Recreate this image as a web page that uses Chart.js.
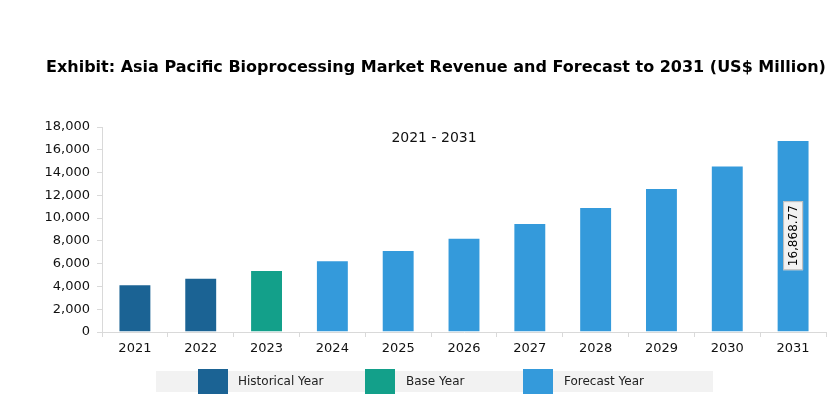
<!DOCTYPE html>
<html>
<head>
<meta charset="utf-8">
<script src="https://cdn.jsdelivr.net/npm/chart.js@4/dist/chart.umd.min.js"></script>
<style>
html,body{margin:0;padding:0;background:#fff;}
#wrap{position:relative;width:838px;height:415px;}
</style>
</head>
<body>
<div id="wrap"><canvas id="c" width="838" height="415"></canvas></div>
<script>
const TITLE = "Exhibit: Asia Pacific Bioprocessing Market Revenue and Forecast to 2031 (US$ Million)";
const SUBTITLE = "2021 - 2031";
const years = ["2021","2022","2023","2024","2025","2026","2027","2028","2029","2030","2031"];
const revenue = [4190, 4770, 5440, 6290, 7200, 8280, 9570, 10975, 12640, 14630, 16868.77];
const yearType = ["Historical Year","Historical Year","Base Year","Forecast Year","Forecast Year","Forecast Year","Forecast Year","Forecast Year","Forecast Year","Forecast Year","Forecast Year"];
const legendLabels = ["Historical Year","Base Year","Forecast Year"];
const typeColors = {"Historical Year":"#1b6394","Base Year":"#13a08a","Forecast Year":"#349adb"};
const labelledIndex = 10;

const FONT = '"DejaVu Sans", Verdana, sans-serif';

const overlay = {
  id: 'overlay',
  afterDraw(chart) {
    const ctx = chart.ctx;
    ctx.save();
    // title
    ctx.fillStyle = '#000';
    ctx.font = 'bold 16px "DejaVu Sans", Verdana, sans-serif';
    ctx.textBaseline = 'middle';
    ctx.textAlign = 'left';
    ctx.fillText(TITLE, 46, 68, 780);
    // subtitle
    ctx.font = '14px ' + FONT;
    ctx.textAlign = 'center';
    ctx.fillStyle = '#111';
    ctx.fillText(SUBTITLE, 434, 138);
    // data label
    const meta = chart.getDatasetMeta(0);
    const el = meta.data[labelledIndex];
    const txt = revenue[labelledIndex].toLocaleString('en-US', {minimumFractionDigits:2, maximumFractionDigits:2});
    const cy = (el.y + el.base) / 2;
    ctx.translate(el.x, cy);
    ctx.rotate(-Math.PI/2);
    ctx.font = '12px ' + FONT;
    const w = ctx.measureText(txt).width + 8;
    const h = 20;
    ctx.fillStyle = '#f2f2f2';
    ctx.fillRect(-w/2, -h/2, w, h);
    ctx.strokeStyle = '#bbbbbb';
    ctx.lineWidth = 1;
    ctx.strokeRect(-w/2 + 0.5, -h/2 + 0.5, w - 1, h - 1);
    ctx.fillStyle = '#000';
    ctx.textAlign = 'center';
    ctx.textBaseline = 'middle';
    ctx.fillText(txt, 0, 1);
    ctx.restore();

    // legend
    ctx.save();
    ctx.fillStyle = '#f2f2f2';
    ctx.fillRect(156, 371, 557, 21);
    const boxX = [198, 365, 523];
    const textX = [238, 406, 564];
    ctx.font = '12px ' + FONT;
    ctx.textBaseline = 'middle';
    ctx.textAlign = 'left';
    legendLabels.forEach((lab, i) => {
      ctx.fillStyle = typeColors[lab];
      ctx.fillRect(boxX[i], 369, 30, 25);
      ctx.fillStyle = '#222';
      ctx.fillText(lab, textX[i], 382);
    });
    ctx.restore();
  }
};

new Chart(document.getElementById('c'), {
  type: 'bar',
  data: {
    labels: years,
    datasets: [{
      data: revenue,
      backgroundColor: yearType.map(t => typeColors[t]),
      borderColor: 'rgba(255,255,255,0.35)',
      borderWidth: 1,
      categoryPercentage: 1.0,
      barPercentage: 0.5
    }]
  },
  options: {
    responsive: false,
    animation: false,
    devicePixelRatio: 1,
    layout: { padding: { top: 127, right: 12, left: 0, bottom: 0 } },
    plugins: { legend: { display: false }, tooltip: { enabled: false }, title: { display: false } },
    scales: {
      y: {
        min: 0, max: 18000,
        ticks: { stepSize: 2000, padding: 7, color: '#111', font: { family: FONT, size: 13 },
          callback: v => v.toLocaleString('en-US') },
        grid: { drawOnChartArea: false, drawTicks: true, tickLength: 5, color: '#d9d9d9' },
        border: { display: true, color: '#d9d9d9' },
        afterFit(s) { s.width = 102; }
      },
      x: {
        ticks: { padding: 4, color: '#111', font: { family: FONT, size: 13 } },
        grid: { drawOnChartArea: false, drawTicks: true, tickLength: 5, color: '#d9d9d9', offset: true },
        border: { display: true, color: '#d9d9d9' },
        afterFit(s) { s.height = 83; }
      }
    }
  },
  plugins: [overlay]
});
</script>
</body>
</html>
